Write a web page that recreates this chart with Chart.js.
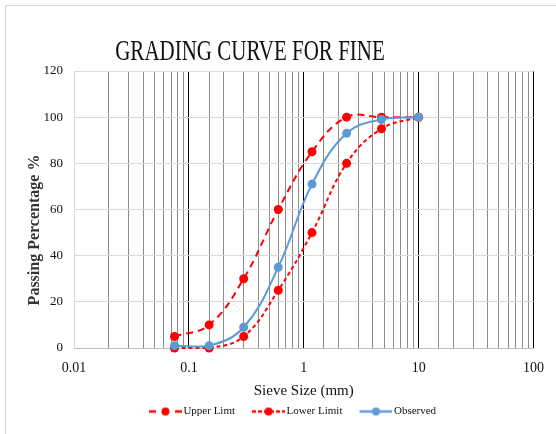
<!DOCTYPE html>
<html>
<head>
<meta charset="utf-8">
<script src="https://cdn.jsdelivr.net/npm/chart.js@4/dist/chart.umd.min.js"></script>
<style>
  html, body { margin: 0; padding: 0; background: #fff; }
  #wrap { width: 556px; height: 434px; }
</style>
</head>
<body>
<div id="wrap"><canvas id="gradingChart" width="556" height="434"></canvas></div>
<script>
// sieve sizes in mm
const sieveSizes = [0.075, 0.15, 0.3, 0.6, 1.18, 2.36, 4.75, 10];
const upperLimit = [5, 10, 30, 60, 85, 100, 100, 100];
const lowerLimit = [0, 0, 5, 25, 50, 80, 95, 100];
const observed = [1, 1, 9, 35, 71, 93, 99, 100];
const xTickLabels = ['0.01', '0.1', '1', '10', '100'];
const yTicks = [0, 20, 40, 60, 80, 100, 120];

const RED = '#ff0000';
const BLUE = '#5b9bd5';
const SERIF = '"Liberation Serif", "Times New Roman", serif';
const PAD_LEFT = 40;

const toPoints = vals => vals.map((v, i) => ({ x: sieveSizes[i], y: v }));

const isDecade = v => {
  const l = Math.log10(v);
  return Math.abs(l - Math.round(l)) < 1e-6;
};

// line + marker icons for the legend (blank margin on the left = item gap)
function legendIcon(color, kind) {
  const c = document.createElement('canvas');
  c.width = 48;
  c.height = 12;
  const g = c.getContext('2d');
  const x0 = 15, x1 = 48, mid = (x0 + x1) / 2;
  g.strokeStyle = color;
  g.fillStyle = color;
  g.lineWidth = 2.5;
  g.beginPath();
  if (kind === 'long') {
    g.moveTo(x0, 6); g.lineTo(x0 + 7, 6);
    g.moveTo(x1 - 7, 6); g.lineTo(x1, 6);
  } else if (kind === 'short') {
    g.setLineDash([4, 2]);
    g.moveTo(x0, 6); g.lineTo(x1, 6);
  } else {
    g.moveTo(x0, 6); g.lineTo(x1, 6);
  }
  g.stroke();
  g.setLineDash([]);
  g.beginPath();
  g.arc(mid, 6, 4, 0, Math.PI * 2);
  g.fill();
  return c;
}
const icons = [legendIcon(RED, 'long'), legendIcon(RED, 'short'), legendIcon(BLUE, 'solid')];

const frameAndTitle = {
  id: 'frameAndTitle',
  beforeDraw(chart) {
    const ctx = chart.ctx;
    ctx.save();
    ctx.fillStyle = '#fff';
    ctx.fillRect(0, 0, chart.width, chart.height);
    ctx.strokeStyle = '#d9d9d9';
    ctx.lineWidth = 1;
    ctx.beginPath();
    ctx.moveTo(5.5, 434); ctx.lineTo(5.5, 5.5); ctx.lineTo(556, 5.5);
    ctx.stroke();
    ctx.restore();
  },
  afterDraw(chart) {
    const ctx = chart.ctx;
    ctx.save();
    ctx.translate(250, 60);
    ctx.scale(0.7, 1);
    ctx.font = '30px ' + SERIF;
    ctx.fillStyle = '#111';
    ctx.textAlign = 'center';
    ctx.textBaseline = 'alphabetic';
    ctx.fillText('GRADING CURVE FOR FINE', 0, 0);
    ctx.restore();

    // y axis title, sits a bit below the middle of the plot like the original
    ctx.save();
    ctx.translate(35, 230);
    ctx.rotate(-Math.PI / 2);
    ctx.font = 'bold 16px ' + SERIF;
    ctx.fillStyle = '#333';
    ctx.textAlign = 'center';
    ctx.textBaseline = 'middle';
    ctx.fillText('Passing Percentage %', 0, 0);
    ctx.restore();
  }
};

const ctx = document.getElementById('gradingChart').getContext('2d');
const gradingChart = new Chart(ctx, {
  type: 'line',
  data: {
    datasets: [
      {
        label: 'Upper Limt',
        data: toPoints(upperLimit),
        borderColor: RED,
        backgroundColor: RED,
        borderWidth: 2,
        borderDash: [7, 5],
        pointRadius: 4.5,
        pointBorderWidth: 0,
        tension: 0.4,
        clip: false,
        order: 1,
      },
      {
        label: 'Lower Limit',
        data: toPoints(lowerLimit),
        borderColor: RED,
        backgroundColor: RED,
        borderWidth: 2,
        borderDash: [4, 3],
        pointRadius: 4.5,
        pointBorderWidth: 0,
        tension: 0.4,
        clip: false,
        order: 2,
      },
      {
        label: 'Observed',
        data: toPoints(observed),
        borderColor: BLUE,
        backgroundColor: BLUE,
        borderWidth: 2,
        pointRadius: 4.5,
        pointBorderWidth: 0,
        tension: 0.4,
        clip: false,
        order: 0,
      },
    ],
  },
  options: {
    responsive: false,
    animation: false,
    layout: { padding: { top: 71, right: 22, bottom: 7, left: PAD_LEFT } },
    plugins: {
      tooltip: { enabled: false },
      legend: {
        position: 'bottom',
        labels: {
          usePointStyle: true,
          pointStyleWidth: 40,
          boxHeight: 12,
          padding: 6,
          color: '#111',
          font: { family: SERIF, size: 11 },
          sort: (a, b) => a.datasetIndex - b.datasetIndex,
          generateLabels(chart) {
            const items = Chart.defaults.plugins.legend.labels.generateLabels(chart);
            items.forEach(it => { it.pointStyle = icons[it.datasetIndex]; });
            return items;
          },
        },
      },
    },
    scales: {
      x: {
        type: 'logarithmic',
        min: 0.01,
        max: 100,
        afterFit(scale) { scale.height = 52; },
        border: { color: '#bfbfbf' },
        grid: {
          drawTicks: false,
          color: c => {
            const v = c.tick.value;
            if (Math.abs(v - 0.01) < 1e-9) return '#d9d9d9';
            return isDecade(v) ? '#000' : '#8c8c8c';
          },
        },
        ticks: {
          autoSkip: false,
          maxRotation: 0,
          padding: 12,
          color: '#111',
          font: { family: SERIF, size: 14 },
          callback(value) {
            if (!isDecade(value)) return '';
            const idx = Math.round(Math.log10(value)) + 2;
            return xTickLabels[idx];
          },
        },
        title: {
          display: true,
          text: 'Sieve Size (mm)',
          color: '#111',
          font: { family: SERIF, size: 15 },
          padding: { top: 0, bottom: 0 },
        },
      },
      y: {
        min: 0,
        max: 120,
        afterFit(scale) { scale.width = 74 - PAD_LEFT; },
        afterBuildTicks(scale) { scale.ticks = yTicks.map(v => ({ value: v })); },
        border: { color: '#d9d9d9' },
        grid: { drawTicks: false, color: '#d9d9d9' },
        ticks: {
          padding: 11,
          color: '#111',
          font: { family: SERIF, size: 13 },
        },
      },
    },
  },
  plugins: [frameAndTitle],
});
</script>
</body>
</html>
